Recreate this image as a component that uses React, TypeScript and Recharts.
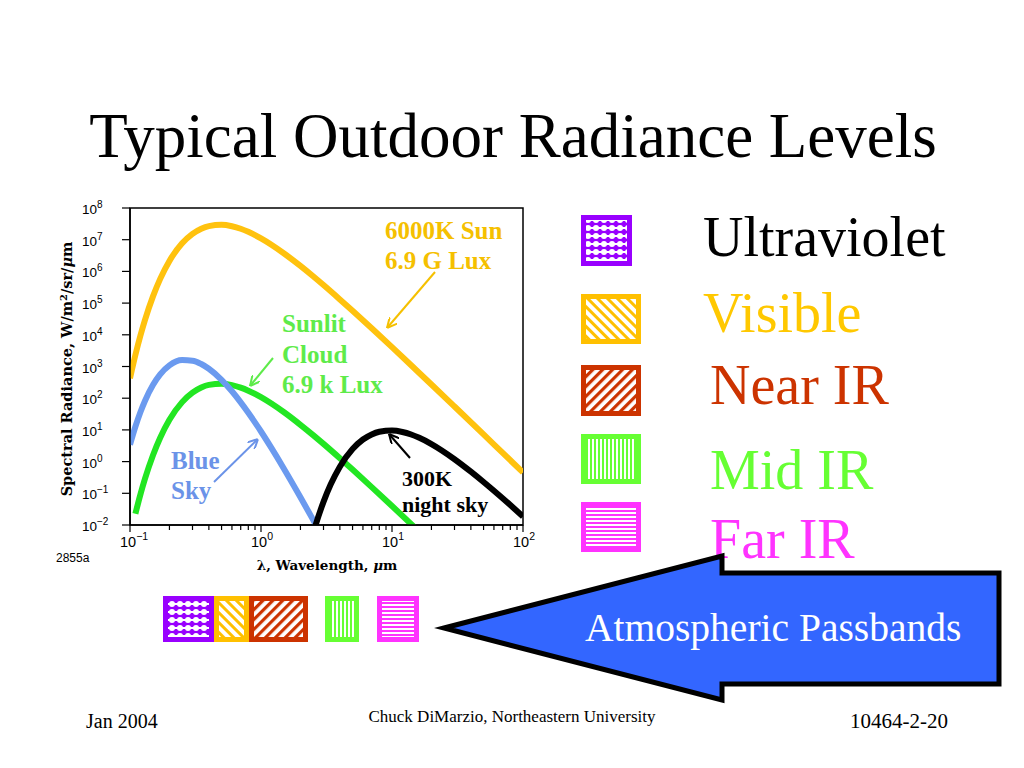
import React from 'react';
import { LineChart, Line, XAxis, YAxis, ReferenceArea } from 'recharts';

// ---- data ----
const sunWavelengths = [0.1, 0.11, 0.12, 0.13, 0.15, 0.17, 0.2, 0.25, 0.3, 0.35, 0.4, 0.5, 0.6, 0.7, 0.8, 1, 1.2, 1.5, 2, 2.5, 3, 4, 5, 7, 10, 15, 20, 30, 50, 70, 100];
const sunRadiance = [425, 2330, 9290, 29000, 1.66e5, 5.81e5, 2.14e6, 7.7e6, 1.53e7, 2.23e7, 2.69e7, 2.94e7, 2.65e7, 2.21e7, 1.77e7, 1.1e7, 6.95e6, 3.68e6, 1.49e6, 7.02e5, 3.71e5, 1.31e5, 5.74e4, 1.61e4, 4070, 837, 271, 54.6, 7.18, 1.88, 0.455];

const blueWavelengths = [0.1, 0.11, 0.12, 0.13, 0.15, 0.17, 0.2, 0.25, 0.3, 0.35, 0.4, 0.5, 0.6, 0.7, 0.8, 1, 1.2, 1.5, 2, 2.5, 2.7];
const blueRadiance = [3.43, 12.8, 36.1, 81.8, 264, 562, 1080, 1590, 1530, 1198, 847, 380, 165, 74.1, 34.8, 8.9, 2.7, 0.587, 0.0751, 0.0145, 0.00815];

const cloudWavelengths = [0.11, 0.12, 0.13, 0.15, 0.17, 0.2, 0.25, 0.3, 0.35, 0.4, 0.5, 0.6, 0.7, 0.8, 1, 1.2, 1.5, 2, 2.5, 3, 4, 5, 7, 10, 15];
const cloudRadiance = [0.0228, 0.0908, 0.283, 1.62, 5.68, 20.9, 75.2, 150, 217, 263, 287, 259, 216, 173, 108, 67.9, 36.0, 14.5, 6.86, 3.62, 1.28, 0.561, 0.157, 0.0398, 0.00818];

const nightWavelengths = [2.5, 2.6, 3, 3.4, 4, 5, 6, 7, 8, 10, 12, 14, 16, 20, 24, 30, 40, 50, 60, 80, 100];
const nightRadiance = [0.00544, 0.00938, 0.0536, 0.188, 0.693, 2.49, 4.97, 7.2, 8.7, 9.52, 8.59, 7.14, 5.72, 3.57, 2.25, 1.19, 0.481, 0.227, 0.12, 0.0425, 0.0186];

const xTicks = [0.1, 0.2, 0.3, 0.4, 0.5, 0.6, 0.7, 0.8, 0.9, 1, 2, 3, 4, 5, 6, 7, 8, 9, 10, 20, 30, 40, 50, 60, 70, 80, 90, 100];
const yTicks = [1e-2, 1e-1, 1, 1e1, 1e2, 1e3, 1e4, 1e5, 1e6, 1e7, 1e8];

const bandNames = ['Ultraviolet', 'Visible', 'Near IR', 'Mid IR', 'Far IR'];
const bandColors = ['#9900FF', '#FFC000', '#CC3300', '#66FF33', '#FF33FF'];
const bandTextColors = ['#000000', '#FFC800', '#CC3300', '#66FF33', '#FF33FF'];

const toPoints = (xs: number[], ys: number[]) => xs.map((x, i) => ({ x, y: ys[i] }));

const expOf = (v: number) => Math.round(Math.log10(v));
const isDecade = (v: number) => Math.abs(Math.log10(v) - Math.round(Math.log10(v))) < 1e-6;
const expLabel = (e: number) => (e < 0 ? '\u2212' + Math.abs(e) : String(e));

const XTick = (props: any) => {
  const { x, y, payload } = props;
  const v = payload.value;
  const major = isDecade(v);
  return (
    <g>
      <line x1={x} y1={y} x2={x} y2={y + (major ? 7 : 5)} stroke="#000" strokeWidth={1.2} />
      {major && (
        <text x={x - 10} y={y + 22} fontFamily="Liberation Sans, Arial, sans-serif" fontSize={14.5} fill="#000">
          10
          <tspan dy={-7} fontSize={10.5}>{expLabel(expOf(v))}</tspan>
        </text>
      )}
    </g>
  );
};

const YTick = (props: any) => {
  const { x, y, payload } = props;
  const v = payload.value;
  return (
    <g>
      <line x1={x - 8} y1={y} x2={x} y2={y} stroke="#000" strokeWidth={1.2} />
      <text x={x - 48} y={y + 6} fontFamily="Liberation Sans, Arial, sans-serif" fontSize={13.5} fill="#000">
        10
        <tspan dy={-6} fontSize={10}>{expLabel(expOf(v))}</tspan>
      </text>
    </g>
  );
};

const Swatch = ({ x, y, w, h, i, inset }: any) => (
  <g>
    <rect x={x} y={y} width={w} height={h} fill={bandColors[i]} />
    <rect x={x + inset} y={y + inset} width={w - 2 * inset} height={h - 2 * inset} fill={`url(#pat${i})`} />
  </g>
);

export default function App() {
  const serif = 'Liberation Serif, Times New Roman, serif';
  const legendY = [215, 294, 365, 434, 502];
  const legendH = [51, 50, 51, 50, 50];
  const legendW = [51, 60, 60, 60, 60];
  const legendTextX = [703, 703, 710, 710, 710];
  const legendBase = [256, 332, 404, 489, 558];
  const bandX = [163, 214, 249, 325, 377];
  const bandW = [51, 35, 59, 34, 42];
  return (
    <div style={{ position: 'absolute', left: 0, top: 0, width: 1024, height: 768, background: '#fff', overflow: 'hidden' }}>
      <div style={{ position: 'absolute', left: 0, top: 0 }}>
        <LineChart width={560} height={600} margin={{ top: 208, right: 37, bottom: 45, left: 70 }}>
          <XAxis
            type="number"
            dataKey="x"
            scale="log"
            domain={[0.1, 100]}
            ticks={xTicks}
            interval={0}
            allowDataOverflow
            height={30}
            tickSize={0}
            tickMargin={0}
            tickLine={false}
            axisLine={{ stroke: '#000', strokeWidth: 1.5 }}
            tick={<XTick />}
          />
          <YAxis
            type="number"
            dataKey="y"
            scale="log"
            domain={[0.01, 1e8]}
            ticks={yTicks}
            interval={0}
            allowDataOverflow
            width={60}
            tickSize={0}
            tickMargin={0}
            tickLine={false}
            axisLine={{ stroke: '#000', strokeWidth: 1.5 }}
            tick={<YTick />}
          />
          <ReferenceArea x1={0.1} x2={100} y1={0.01} y2={1e8} fill="none" stroke="#000" strokeWidth={1.5} fillOpacity={0} />
          <Line data={toPoints(sunWavelengths, sunRadiance)} dataKey="y" type="monotone" stroke="#FFC20E" strokeWidth={6} dot={false} isAnimationActive={false} />
          <Line data={toPoints(cloudWavelengths, cloudRadiance)} dataKey="y" type="monotone" stroke="#22E622" strokeWidth={6} dot={false} isAnimationActive={false} />
          <Line data={toPoints(blueWavelengths, blueRadiance)} dataKey="y" type="monotone" stroke="#6B9AEF" strokeWidth={6} dot={false} isAnimationActive={false} />
          <Line data={toPoints(nightWavelengths, nightRadiance)} dataKey="y" type="monotone" stroke="#000000" strokeWidth={6} dot={false} isAnimationActive={false} />
        </LineChart>
      </div>
      <svg width={1024} height={768} style={{ position: 'absolute', left: 0, top: 0, pointerEvents: 'none' }}>
        <defs>
          <pattern id="pat0" width={8} height={8} patternUnits="userSpaceOnUse" x={0} y={0}>
            <rect width={8} height={8} fill="#9900FF" />
            <rect x={0} y={3} width={8} height={2} fill="#fff" />
            <circle cx={4} cy={4} r={3} fill="#fff" />
          </pattern>
          <pattern id="pat1" width={7} height={7} patternUnits="userSpaceOnUse" patternTransform="rotate(-45)">
            <rect width={7} height={7} fill="#fff" />
            <rect width={3} height={7} fill="#FFC000" />
          </pattern>
          <pattern id="pat2" width={7} height={7} patternUnits="userSpaceOnUse" patternTransform="rotate(45)">
            <rect width={7} height={7} fill="#fff" />
            <rect width={3.2} height={7} fill="#CC3300" />
          </pattern>
          <pattern id="pat3" width={4} height={4} patternUnits="userSpaceOnUse">
            <rect width={4} height={4} fill="#66FF33" />
            <rect width={2} height={4} fill="#fff" />
          </pattern>
          <pattern id="pat4" width={4} height={4} patternUnits="userSpaceOnUse">
            <rect width={4} height={4} fill="#FF33FF" />
            <rect width={4} height={2} fill="#fff" />
          </pattern>
          {[['orange', '#F5C000'], ['green', '#5EEB4A'], ['blue', '#6B93E8'], ['black', '#000']].map(([n, c]) => (
            <marker key={n} id={`ah-${n}`} viewBox="0 0 10 10" refX={10} refY={5} markerWidth={10} markerHeight={10} markerUnits="userSpaceOnUse" orient="auto">
              <path d="M0,0 L10,5 L0,10" fill="none" stroke={c} strokeWidth={2} />
            </marker>
          ))}
        </defs>

        <text x={513} y={157} textAnchor="middle" fontFamily={serif} fontSize={63} fill="#000">
          Typical Outdoor Radiance Levels
        </text>

        {/* axis titles */}
        <text x={327} y={570} textAnchor="middle" fontFamily="DejaVu Serif, serif" fontWeight="bold" fontSize={13.5} fill="#000">
          λ, Wavelength, <tspan fontStyle="italic">μ</tspan>m
        </text>
        <text transform="translate(72,369) rotate(-90)" textAnchor="middle" fontFamily="DejaVu Serif, serif" fontWeight="bold" fontSize={14.5} fill="#000">
          Spectral Radiance, W/m<tspan dy={-5} fontSize={10}>2</tspan><tspan dy={5}>/sr/</tspan><tspan fontStyle="italic">μ</tspan>m
        </text>
        <text x={56} y={562} fontFamily="Liberation Sans, Arial, sans-serif" fontSize={12} fill="#000">2855a</text>

        {/* in-plot annotations */}
        <g fontFamily={serif} fontWeight="bold" fontSize={25}>
          <text x={385} y={239} fill="#F5C000">6000K Sun</text>
          <text x={385} y={269} fill="#F5C000">6.9 G Lux</text>
          <text x={282} y={332} fill="#5EEB4A">Sunlit</text>
          <text x={282} y={363} fill="#5EEB4A">Cloud</text>
          <text x={282} y={393} fill="#5EEB4A">6.9 k Lux</text>
          <text x={171} y={469} fill="#6B93E8">Blue</text>
          <text x={171} y={499} fill="#6B93E8">Sky</text>
        </g>
        <g fontFamily={serif} fontWeight="bold" fontSize={22}>
          <text x={402} y={486} fill="#000">300K</text>
          <text x={402} y={512} fill="#000">night sky</text>
        </g>
        <line x1={435} y1={272} x2={387} y2={328} stroke="#F5C000" strokeWidth={2} markerEnd="url(#ah-orange)" />
        <line x1={273} y1={358} x2={250} y2={386} stroke="#5EEB4A" strokeWidth={2} markerEnd="url(#ah-green)" />
        <line x1={214} y1={482} x2={258} y2={439} stroke="#6B93E8" strokeWidth={2} markerEnd="url(#ah-blue)" />
        <line x1={410} y1={458} x2={389} y2={434} stroke="#000" strokeWidth={2} markerEnd="url(#ah-black)" />

        {/* right legend */}
        {bandNames.map((name, i) => (
          <g key={name}>
            <Swatch x={581} y={legendY[i]} w={legendW[i]} h={legendH[i]} i={i} inset={5} />
            <text x={legendTextX[i]} y={legendBase[i]} fontFamily={serif} fontSize={56} fill={bandTextColors[i]}>
              {name}
            </text>
          </g>
        ))}

        {/* atmospheric passbands */}
        {bandNames.map((name, i) => (
          <Swatch key={'b' + name} x={bandX[i]} y={596} w={bandW[i]} h={46} i={i} inset={5} />
        ))}

        <polygon
          points="444,628 722,556 722,573 999,573 999,684 722,684 722,700"
          fill="#3366FF"
          stroke="#000"
          strokeWidth={5}
          strokeLinejoin="miter"
        />
        <text x={585} y={641} fontFamily={serif} fontSize={39.5} fill="#fff">Atmospheric Passbands</text>

        {/* footer */}
        <text x={86} y={728} fontFamily={serif} fontSize={20} fill="#000">Jan 2004</text>
        <text x={512} y={722} textAnchor="middle" fontFamily={serif} fontSize={17} fill="#000">Chuck DiMarzio, Northeastern University</text>
        <text x={948} y={728} textAnchor="end" fontFamily={serif} fontSize={21} fill="#000">10464-2-20</text>
      </svg>
    </div>
  );
}
